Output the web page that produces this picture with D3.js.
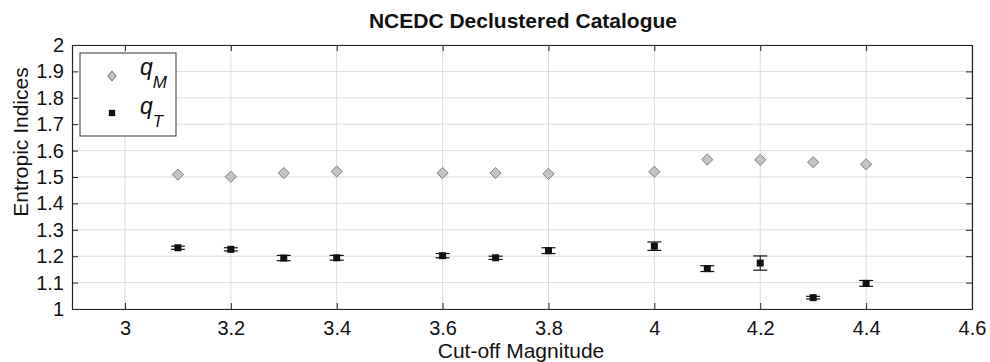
<!DOCTYPE html>
<html>
<head>
<meta charset="utf-8">
<script src="https://cdn.jsdelivr.net/npm/d3@7"></script>
<style>
  body { margin: 0; background: #fff; }
  svg { font-family: "Liberation Sans", Arial, sans-serif; }
</style>
</head>
<body>
<div id="chart"></div>
<script>
// cut-off magnitudes
const magnitudes = [3.1, 3.2, 3.3, 3.4, 3.6, 3.7, 3.8, 4.0, 4.1, 4.2, 4.3, 4.4];
// q_M values (no visible error bars)
const qM = [1.509, 1.501, 1.515, 1.521, 1.515, 1.515, 1.512, 1.520, 1.566, 1.565, 1.556, 1.548];
// q_T values and error half-widths
const qT = [1.232, 1.226, 1.193, 1.194, 1.202, 1.194, 1.221, 1.238, 1.153, 1.174, 1.043, 1.097];
const qTerr = [0.006, 0.006, 0.010, 0.009, 0.008, 0.006, 0.011, 0.016, 0.011, 0.027, 0.005, 0.011];

const xTicks = [3, 3.2, 3.4, 3.6, 3.8, 4, 4.2, 4.4, 4.6];
const yTicks = [1, 1.1, 1.2, 1.3, 1.4, 1.5, 1.6, 1.7, 1.8, 1.9, 2];

const width = 990, height = 362;
const margin = {top: 45, right: 18, bottom: 53, left: 72};
const iw = width - margin.left - margin.right;
const ih = height - margin.top - margin.bottom;

const svg = d3.select('#chart')
    .append('svg')
    .attr('width', width)
    .attr('height', height);

const g = svg.append('g')
    .attr('transform', `translate(${margin.left},${margin.top})`);

const x = d3.scaleLinear().domain([2.9, 4.6]).range([0, iw]);
const y = d3.scaleLinear().domain([1, 2]).range([ih, 0]);

// grid
g.append('g')
    .selectAll('line')
    .data(xTicks)
    .enter()
    .append('line')
    .attr('x1', d => x(d)).attr('x2', d => x(d))
    .attr('y1', 0).attr('y2', ih)
    .attr('stroke', '#dcdcdc')
    .attr('stroke-width', 1);

g.append('g')
    .selectAll('line')
    .data(yTicks)
    .enter()
    .append('line')
    .attr('x1', 0).attr('x2', iw)
    .attr('y1', d => y(d)).attr('y2', d => y(d))
    .attr('stroke', '#dcdcdc')
    .attr('stroke-width', 1);

// axes (ticks inward, boxed)
const fmt = d => String(+d.toFixed(1));
const axBottom = g.append('g')
    .attr('transform', `translate(0,${ih})`)
    .call(d3.axisBottom(x).tickValues(xTicks).tickSizeInner(-6).tickSizeOuter(0).tickPadding(12).tickFormat(fmt));
const axLeft = g.append('g')
    .call(d3.axisLeft(y).tickValues(yTicks).tickSizeInner(-6).tickSizeOuter(0).tickPadding(8).tickFormat(fmt));
const axTop = g.append('g')
    .call(d3.axisTop(x).tickValues(xTicks).tickSizeInner(-6).tickSizeOuter(0).tickFormat(''));
const axRight = g.append('g')
    .attr('transform', `translate(${iw},0)`)
    .call(d3.axisRight(y).tickValues(yTicks).tickSizeInner(-6).tickSizeOuter(0).tickFormat(''));

[axBottom, axLeft, axTop, axRight].forEach(a => {
    a.select('.domain').attr('stroke', '#222').attr('stroke-width', 1.2);
    a.selectAll('.tick line').attr('stroke', '#222');
    a.selectAll('.tick text').attr('font-size', 20).attr('fill', '#111');
});

// q_T error bars
const eb = g.append('g')
    .selectAll('g')
    .data(magnitudes)
    .enter()
    .append('g');
eb.append('line')
    .attr('x1', d => x(d)).attr('x2', d => x(d))
    .attr('y1', (d, i) => y(qT[i] - qTerr[i]))
    .attr('y2', (d, i) => y(qT[i] + qTerr[i]))
    .attr('stroke', '#111');
eb.append('line')
    .attr('x1', d => x(d) - 7).attr('x2', d => x(d) + 7)
    .attr('y1', (d, i) => y(qT[i] - qTerr[i]))
    .attr('y2', (d, i) => y(qT[i] - qTerr[i]))
    .attr('stroke', '#111').attr('stroke-width', 1.2);
eb.append('line')
    .attr('x1', d => x(d) - 7).attr('x2', d => x(d) + 7)
    .attr('y1', (d, i) => y(qT[i] + qTerr[i]))
    .attr('y2', (d, i) => y(qT[i] + qTerr[i]))
    .attr('stroke', '#111').attr('stroke-width', 1.2);

const square = d3.symbol().type(d3.symbolSquare).size(49);
const diamond = d3.symbol().type(d3.symbolDiamond2).size(80);

// q_T markers
g.append('g')
    .selectAll('path')
    .data(magnitudes)
    .enter()
    .append('path')
    .attr('d', square)
    .attr('transform', (d, i) => `translate(${x(d)},${y(qT[i])})`)
    .attr('fill', '#111');

// q_M markers
g.append('g')
    .selectAll('path')
    .data(magnitudes)
    .enter()
    .append('path')
    .attr('d', diamond)
    .attr('transform', (d, i) => `translate(${x(d)},${y(qM[i])})`)
    .attr('fill', '#c4c4c4')
    .attr('stroke', '#808080')
    .attr('stroke-width', 1);

// legend
const legend = svg.append('g').attr('transform', 'translate(80,53)');
legend.append('rect')
    .attr('width', 96).attr('height', 83)
    .attr('fill', '#fff')
    .attr('stroke', '#333')
    .attr('stroke-width', 1);
legend.append('path')
    .attr('d', d3.symbol().type(d3.symbolDiamond2).size(50))
    .attr('transform', 'translate(32,23) scale(0.9,1.1)')
    .attr('fill', '#c4c4c4').attr('stroke', '#808080');
legend.append('path')
    .attr('d', d3.symbol().type(d3.symbolSquare).size(40))
    .attr('transform', 'translate(32,60)')
    .attr('fill', '#111');
const labels = [['q', 'M', 22], ['q', 'T', 61]];
labels.forEach(([base, sub, ty]) => {
    const t = legend.append('text')
        .attr('x', 60).attr('y', ty)
        .attr('font-size', 23)
        .attr('font-style', 'italic')
        .attr('fill', '#111');
    t.append('tspan').text(base);
    t.append('tspan').attr('dy', 13).attr('font-size', 17).text(sub);
});

// title and axis labels
svg.append('text')
    .attr('x', 523).attr('y', 28)
    .attr('text-anchor', 'middle')
    .attr('font-size', 21)
    .attr('font-weight', 'bold')
    .attr('fill', '#111')
    .text('NCEDC Declustered Catalogue');

svg.append('text')
    .attr('x', 521).attr('y', 358)
    .attr('text-anchor', 'middle')
    .attr('font-size', 21)
    .attr('fill', '#111')
    .text('Cut-off Magnitude');

svg.append('text')
    .attr('transform', 'translate(28,142) rotate(-90)')
    .attr('text-anchor', 'middle')
    .attr('font-size', 21)
    .attr('fill', '#111')
    .text('Entropic Indices');
</script>
</body>
</html>
